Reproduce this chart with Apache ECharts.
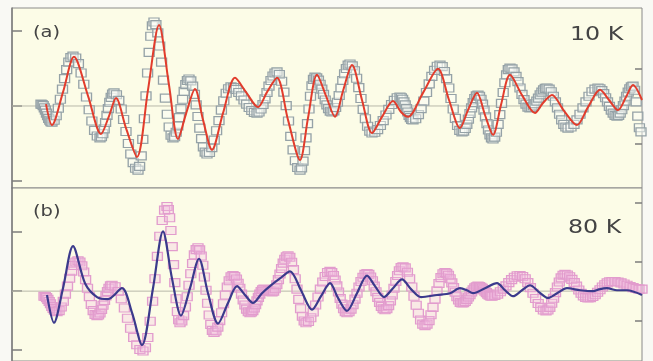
<!DOCTYPE html>
<html>
<head>
<meta charset="utf-8">
<script src="https://cdn.jsdelivr.net/npm/echarts@6/dist/echarts.min.js"></script>
<style>
  html, body { margin: 0; padding: 0; background: #f9f9f4; }
  #chart { width: 653px; height: 361px; }
</style>
</head>
<body>
<div id="chart"></div>
<script>
// panel (a) 10 K - fit curve
const kRedA = [46,52,63,74,88,101,109,116,126,137,148,159,169,178,186,195,203,212,223,235,246,258,267,277,288,300,308,317,326,335,343,352,362,372,382,393,401,408,423,438,449,460,468,477,485,493,501,510,522,535,543,552,564,577,588,600,609,618,626,633,642];
const redA = [0.05,-0.51,0.37,1.31,0.27,-0.75,-0.27,0.21,-0.59,-1.36,0.43,2.16,0.56,-0.88,-0.21,0.45,-0.37,-1.17,-0.19,0.75,0.37,-0.03,0.37,0.75,-0.37,-1.44,-0.32,0.83,0.27,-0.29,0.40,1.09,0.16,-0.72,-0.29,0.13,-0.16,-0.29,0.35,0.99,0.16,-0.59,-0.11,0.35,-0.24,-0.77,0.03,0.83,0.29,-0.19,0.08,0.29,-0.13,-0.51,-0.03,0.43,0.16,-0.11,0.24,0.56,0.16];

// panel (a) 10 K - measured (squares)
const kSqA = [41,43.2,45.4,47.6,49.8,52,56.2,60.4,64.6,68.8,73,78.4,83.8,89.2,94.6,100,102.8,105.6,108.4,111.2,114,118.8,123.6,128.4,133.2,138,139.6,141.2,142.8,144.4,146,147.6,149.2,150.8,152.4,154,155.9,157.8,159.7,161.6,163.5,165.4,167.3,169.2,171.1,173,176.2,179.4,182.6,185.8,189,192.6,196.2,199.8,203.4,207,211.8,216.6,221.4,226.2,231,236.2,241.4,246.6,251.8,257,261,265,269,273,277,281.6,286.2,290.8,295.4,300,303,306,309,312,315,318.4,321.8,325.2,328.6,332,335.6,339.2,342.8,346.4,350,354.4,358.8,363.2,367.6,372,377.6,383.2,388.8,394.4,400,402.6,405.2,407.8,410.4,413,418.4,423.8,429.2,434.6,440,444.4,448.8,453.2,457.6,462,465.2,468.4,471.6,474.8,478,481,484,487,490,493,496.4,499.8,503.2,506.6,510,514,518,522,526,530,533.4,536.8,540.2,543.6,547,551.2,555.4,559.6,563.8,568,574,580,586,592,598,601.8,605.6,609.4,613.2,617,620.2,623.4,626.6,629.8,633,634.6,636.2,637.8,639.4,641];
const sqA = [0.05,0.01,-0.11,-0.26,-0.38,-0.43,-0.26,0.18,0.73,1.17,1.33,1.13,0.58,-0.10,-0.65,-0.85,-0.74,-0.44,-0.07,0.23,0.35,0.15,-0.36,-1.00,-1.51,-1.71,-1.61,-1.33,-0.89,-0.34,0.27,0.88,1.43,1.86,2.14,2.24,2.17,1.95,1.60,1.17,0.69,0.21,-0.22,-0.56,-0.78,-0.85,-0.70,-0.31,0.18,0.57,0.72,0.53,0.03,-0.59,-1.09,-1.28,-1.11,-0.66,-0.11,0.34,0.51,0.44,0.27,0.05,-0.12,-0.19,-0.08,0.19,0.53,0.80,0.91,0.66,0.01,-0.81,-1.46,-1.71,-1.47,-0.85,-0.08,0.54,0.77,0.69,0.45,0.16,-0.07,-0.16,-0.04,0.28,0.68,1.00,1.12,0.94,0.49,-0.09,-0.54,-0.72,-0.63,-0.39,-0.09,0.15,0.24,0.18,0.03,-0.16,-0.31,-0.37,-0.23,0.13,0.59,0.95,1.09,0.92,0.48,-0.08,-0.52,-0.69,-0.60,-0.35,-0.05,0.20,0.29,0.18,-0.11,-0.47,-0.77,-0.88,-0.70,-0.23,0.36,0.83,1.01,0.91,0.65,0.31,0.05,-0.05,0.00,0.13,0.30,0.43,0.48,0.38,0.11,-0.22,-0.49,-0.59,-0.49,-0.22,0.11,0.38,0.48,0.41,0.22,-0.01,-0.19,-0.27,-0.19,0.01,0.26,0.46,0.53,0.42,0.11,-0.27,-0.58,-0.69];
// (a) squares read in between the ones above
const kSqA2 = [42.1,44.3,46.5,48.7,50.9,54.1,58.3,62.5,66.7,70.9,75.7,81.1,86.5,91.9,97.3,101.4,104.2,107,109.8,112.6,116.4,121.2,126,130.8,135.6,174.6,177.8,181,184.2,187.4,190.8,194.4,198,201.6,205.2,209.4,214.2,219,223.8,228.6,233.6,238.8,244,249.2,254.4,259,263,267,271,275,279.3,283.9,288.5,293.1,297.7,301.5,304.5,307.5,310.5,313.5,316.7,320.1,323.5,326.9,330.3,333.8,337.4,341,344.6,348.2,352.2,356.6,361,365.4,369.8,374.8,380.4,386,391.6,397.2,401.3,403.9,406.5,409.1,411.7,415.7,421.1,426.5,431.9,437.3,442.2,446.6,451,455.4,459.8,463.6,466.8,470,473.2,476.4,479.5,482.5,485.5,488.5,491.5,494.7,498.1,501.5,504.9,508.3,512,516,520,524,528,531.7,535.1,538.5,541.9,545.3,549.1,553.3,557.5,561.7,565.9,571,577,583,589,595,599.9,603.7,607.5,611.3,615.1,618.6,621.8,625,628.2,631.4];
const sqA2 = [0.04,-0.05,-0.19,-0.33,-0.42,-0.38,-0.06,0.45,0.97,1.29,1.28,0.88,0.24,-0.40,-0.80,-0.82,-0.61,-0.25,0.10,0.32,0.30,-0.08,-0.68,-1.28,-1.66,-0.82,-0.53,-0.07,0.39,0.68,0.67,0.31,-0.28,-0.87,-1.23,-1.24,-0.91,-0.39,0.14,0.46,0.49,0.36,0.16,-0.04,-0.17,-0.16,0.04,0.36,0.68,0.88,0.84,0.37,-0.40,-1.17,-1.64,-1.65,-1.19,-0.47,0.26,0.71,0.75,0.58,0.31,0.03,-0.14,-0.13,0.10,0.48,0.86,1.09,1.07,0.74,0.20,-0.34,-0.67,-0.70,-0.52,-0.24,0.04,0.22,0.22,0.11,-0.07,-0.25,-0.36,-0.34,-0.07,0.36,0.79,1.06,1.05,0.73,0.20,-0.33,-0.65,-0.67,-0.49,-0.20,0.09,0.27,0.26,0.05,-0.29,-0.64,-0.85,-0.83,-0.49,0.07,0.62,0.97,0.99,0.79,0.48,0.17,-0.03,-0.04,0.06,0.21,0.37,0.47,0.45,0.26,-0.05,-0.37,-0.56,-0.56,-0.37,-0.05,0.26,0.45,0.46,0.33,0.11,-0.11,-0.25,-0.25,-0.10,0.13,0.37,0.51];

// panel (b) 80 K - fit curve
const kBlueB = [47,54,63,73,85,97,108,122,132,142,153,163,172,181,190,199,208,218,228,237,245,253,262,270,280,290,301,312,321,330,338,347,357,367,375,384,393,402,411,421,437,450,460,467,473,485,497,505,513,522,530,539,548,557,567,580,593,600,607,617,627,642];
const blueB = [-0.13,-1.07,0.10,1.53,0.27,-0.20,-0.27,0.10,-0.73,-1.83,0.10,2.03,0.43,-0.83,0.10,1.10,-0.07,-1.10,-0.40,0.17,-0.13,-0.40,-0.07,0.17,0.43,0.67,0.03,-0.63,-0.17,0.27,-0.23,-0.67,-0.07,0.53,0.17,-0.20,0.10,0.40,0.07,-0.20,-0.13,-0.07,0.10,0.03,-0.07,0.10,0.27,0.03,-0.17,0.03,0.20,-0.03,-0.23,-0.07,0.10,0.03,0.00,0.07,0.10,0.03,0.03,-0.13];

// panel (b) 80 K - measured (squares)
const kSqB = [44,46.6,49.2,51.8,54.4,57,61.2,65.4,69.6,73.8,78,81.8,85.6,89.4,93.2,97,100,103,106,109,112,118.2,124.4,130.6,136.8,143,145.4,147.8,150.2,152.6,155,157.4,159.8,162.2,164.6,167,168.3,169.6,170.9,172.2,173.5,174.8,176.1,177.4,178.7,180,183.6,187.2,190.8,194.4,198,201.2,204.4,207.6,210.8,214,217.8,221.6,225.4,229.2,233,236.4,239.8,243.2,246.6,250,252.8,255.6,258.4,261.2,264,268,272,275.2,278.4,281.6,284.8,288,291.6,295.2,298.8,302.4,306,310.8,315.6,320.4,325.2,330,333.4,336.8,340.2,343.6,347,351,355,359,363,367,370.6,374.2,377.8,381.4,385,388.6,392.2,395.8,399.4,403,407.4,411.8,416.2,420.6,425,429,433,437,441,445,448.4,451.8,455.2,458.6,462,465.2,468.4,471.6,474.8,478,480.8,483.6,486.4,489.2,492,497.6,503.2,508.8,514.4,520,525.2,530.4,535.6,540.8,546,549.8,553.6,557.4,561.2,565,569.6,574.2,578.8,583.4,588,592.8,597.6,602.4,607.2,612,618,624,630,636,642];
const sqB = [-0.17,-0.22,-0.35,-0.52,-0.65,-0.70,-0.54,-0.10,0.44,0.87,1.03,0.86,0.39,-0.19,-0.66,-0.83,-0.74,-0.48,-0.16,0.10,0.20,-0.01,-0.57,-1.26,-1.82,-2.03,-1.92,-1.57,-1.02,-0.34,0.42,1.18,1.86,2.40,2.75,2.87,2.77,2.49,2.06,1.51,0.90,0.29,-0.26,-0.69,-0.97,-1.07,-0.83,-0.19,0.59,1.23,1.47,1.19,0.48,-0.41,-1.13,-1.40,-1.22,-0.73,-0.13,0.35,0.53,0.41,0.10,-0.30,-0.61,-0.73,-0.66,-0.46,-0.21,-0.01,0.07,0.02,-0.03,0.08,0.39,0.77,1.08,1.20,0.98,0.42,-0.28,-0.85,-1.07,-0.90,-0.47,0.07,0.50,0.67,0.53,0.18,-0.25,-0.60,-0.73,-0.61,-0.27,0.14,0.47,0.60,0.48,0.17,-0.21,-0.52,-0.63,-0.49,-0.13,0.33,0.69,0.83,0.64,0.14,-0.48,-0.98,-1.17,-1.00,-0.55,0.01,0.46,0.63,0.54,0.28,-0.04,-0.30,-0.40,-0.35,-0.20,-0.03,0.11,0.17,0.13,0.05,-0.05,-0.14,-0.17,-0.10,0.07,0.29,0.47,0.53,0.42,0.12,-0.25,-0.55,-0.67,-0.55,-0.24,0.14,0.45,0.57,0.49,0.29,0.04,-0.16,-0.23,-0.18,-0.04,0.14,0.28,0.33,0.31,0.24,0.16,0.09,0.07];
// (b) squares read in between the ones above
const kSqB2 = [45.3,47.9,50.5,53.1,55.7,59.1,63.3,67.5,71.7,75.9,79.9,83.7,87.5,91.3,95.1,98.5,101.5,104.5,107.5,110.5,115.1,121.3,127.5,133.7,139.9,181.8,185.4,189,192.6,196.2,199.6,202.8,206,209.2,212.4,215.9,219.7,223.5,227.3,231.1,234.7,238.1,241.5,244.9,248.3,251.4,254.2,257,259.8,262.6,266,270,273.6,276.8,280,283.2,286.4,289.8,293.4,297,300.6,304.2,308.4,313.2,318,322.8,327.6,331.7,335.1,338.5,341.9,345.3,349,353,357,361,365,368.8,372.4,376,379.6,383.2,386.8,390.4,394,397.6,401.2,405.2,409.6,414,418.4,422.8,427,431,435,439,443,446.7,450.1,453.5,456.9,460.3,463.6,466.8,470,473.2,476.4,479.4,482.2,485,487.8,490.6,494.8,500.4,506,511.6,517.2,522.6,527.8,533,538.2,543.4,547.9,551.7,555.5,559.3,563.1,567.3,571.9,576.5,581.1,585.7,590.4,595.2,600,604.8,609.6,615,621,627,633,639];
const sqB2 = [-0.18,-0.28,-0.43,-0.59,-0.69,-0.66,-0.34,0.17,0.68,0.99,0.99,0.65,0.10,-0.45,-0.79,-0.81,-0.62,-0.32,-0.01,0.18,0.15,-0.26,-0.92,-1.57,-1.98,-1.01,-0.54,0.20,0.94,1.41,1.40,0.88,0.03,-0.81,-1.33,-1.35,-1.00,-0.43,0.14,0.49,0.50,0.27,-0.10,-0.47,-0.70,-0.71,-0.57,-0.33,-0.10,0.05,0.05,0.00,0.00,0.22,0.58,0.95,1.17,1.15,0.73,0.07,-0.60,-1.01,-1.03,-0.71,-0.20,0.31,0.63,0.63,0.38,-0.03,-0.44,-0.70,-0.70,-0.46,-0.07,0.33,0.57,0.57,0.35,-0.02,-0.38,-0.60,-0.60,-0.33,0.10,0.53,0.80,0.79,0.42,-0.17,-0.75,-1.12,-1.12,-0.80,-0.27,0.26,0.59,0.61,0.42,0.12,-0.19,-0.38,-0.39,-0.28,-0.12,0.05,0.15,0.16,0.10,0.00,-0.10,-0.16,-0.15,-0.02,0.18,0.39,0.52,0.50,0.29,-0.07,-0.42,-0.64,-0.64,-0.41,-0.05,0.31,0.54,0.55,0.40,0.17,-0.07,-0.21,-0.22,-0.12,0.05,0.22,0.32,0.33,0.28,0.20,0.12,0.07];

const kRange = [12, 642];
const majorTicks = [-2, 0, 2];
const minorTicksA = [-1, 1];
const minorTicksB = [-1, 1, 3];

const pairs = (xs, ys) => xs.map((x, i) => [x, ys[i]]);
const byK = (a, b) => a[0] - b[0];

const axisGrey = '#7c7c7c';
const panelBg = '#fcfce7';

function yAx(grid, min, max, ticks, len, line) {
  return {
    type: 'value', gridIndex: grid, min: min, max: max,
    axisLine: { show: line, onZero: false, lineStyle: { color: axisGrey, width: 1.5 } },
    axisTick: { show: true, inside: true, length: len, customValues: ticks, lineStyle: { color: axisGrey, width: 1.5 } },
    axisLabel: { show: false },
    splitLine: { show: false }
  };
}

function zeroLine(xi, yi) {
  return {
    type: 'line', xAxisIndex: xi, yAxisIndex: yi, silent: true, z: 1,
    data: [[kRange[0], 0], [kRange[1], 0]],
    symbol: 'none', lineStyle: { color: '#b9b9aa', width: 1 }
  };
}

let chart = echarts.init(document.getElementById('chart'));
chart.setOption({
  animation: false,
  backgroundColor: '#f9f9f4',
  grid: [
    { left: 12, right: 11, top: 8, height: 180, show: true, backgroundColor: panelBg, borderColor: '#8a8a8a', borderWidth: 1 },
    { left: 12, right: 11, top: 188, bottom: -3, show: true, backgroundColor: panelBg, borderColor: '#8a8a8a', borderWidth: 1 }
  ],
  xAxis: [
    { type: 'value', gridIndex: 0, min: kRange[0], max: kRange[1], show: false },
    { type: 'value', gridIndex: 1, min: kRange[0], max: kRange[1], show: false }
  ],
  yAxis: [
    yAx(0, -2.187, 2.613, majorTicks, 10, true),
    yAx(0, -2.187, 2.613, minorTicksA, 7, false),
    yAx(1, -2.37, 3.5, majorTicks, 10, true),
    yAx(1, -2.37, 3.5, minorTicksB, 7, false)
  ],
  graphic: [
    { type: 'text', x: 33, y: 33, scaleX: 1.3, style: { text: '(a)', x: 0, y: 0, verticalAlign: 'middle', font: '15px "DejaVu Sans"', fill: '#444' } },
    { type: 'text', x: 570, y: 35, scaleX: 1.25, style: { text: '10 K', x: 0, y: 0, verticalAlign: 'middle', font: '19px "DejaVu Sans"', fill: '#444' } },
    { type: 'text', x: 33, y: 212, scaleX: 1.3, style: { text: '(b)', x: 0, y: 0, verticalAlign: 'middle', font: '15px "DejaVu Sans"', fill: '#444' } },
    { type: 'text', x: 568, y: 228, scaleX: 1.25, style: { text: '80 K', x: 0, y: 0, verticalAlign: 'middle', font: '19px "DejaVu Sans"', fill: '#444' } }
  ],
  series: [
    zeroLine(0, 0),
    zeroLine(1, 2),
    {
      type: 'scatter', xAxisIndex: 0, yAxisIndex: 0, z: 3,
      data: pairs(kSqA, sqA).concat(pairs(kSqA2, sqA2)).sort(byK),
      symbol: 'rect', symbolSize: [10, 8],
      itemStyle: { color: 'rgba(250,252,248,0.45)', borderColor: '#95a2a7', borderWidth: 1.2, opacity: 1 }
    },
    {
      type: 'line', xAxisIndex: 0, yAxisIndex: 0, z: 4,
      data: pairs(kRedA, redA),
      smooth: 0.3, showSymbol: false,
      lineStyle: { color: '#e23c2c', width: 2 }
    },
    {
      type: 'scatter', xAxisIndex: 1, yAxisIndex: 2, z: 3,
      data: pairs(kSqB, sqB).concat(pairs(kSqB2, sqB2)).sort(byK),
      symbol: 'rect', symbolSize: [10, 8],
      itemStyle: { color: 'rgba(242,190,224,0.3)', borderColor: '#e29ccd', borderWidth: 1.2, opacity: 1 }
    },
    {
      type: 'line', xAxisIndex: 1, yAxisIndex: 2, z: 4,
      data: pairs(kBlueB, blueB),
      smooth: 0.3, showSymbol: false,
      lineStyle: { color: '#3b3a8c', width: 2.2 }
    }
  ]
});
</script>
</body>
</html>
